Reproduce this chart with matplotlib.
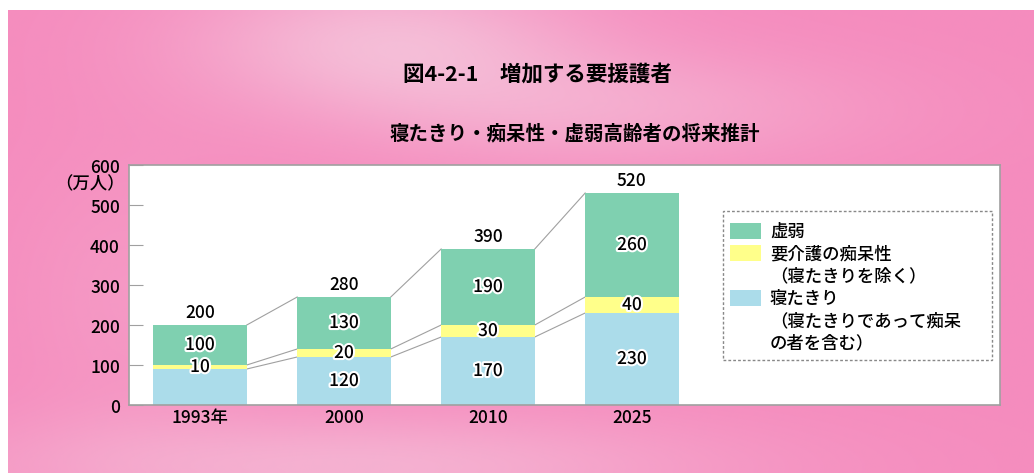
import matplotlib
matplotlib.use('Agg')
import matplotlib.pyplot as plt
import matplotlib.patheffects as pe
from matplotlib.patches import Rectangle
import numpy as np

plt.rcParams['font.family'] = ['Noto Sans CJK JP', 'DejaVu Sans']
plt.rcParams['font.weight'] = 'medium'

# data (万人)
years = ['1993年', '2000', '2010', '2025']
bedridden = [90, 120, 170, 230]      # 寝たきり
dementia = [10, 20, 30, 40]          # 要介護の痴呆性
frail = [100, 130, 190, 260]         # 虚弱
bedridden_labels = ['', '120', '170', '230']
dementia_labels = ['10', '20', '30', '40']
frail_labels = ['100', '130', '190', '260']
total_labels = ['200', '280', '390', '520']

legend_labels = [
    ['虚弱'],
    ['要介護の痴呆性', '（寝たきりを除く）'],
    ['寝たきり', '（寝たきりであって痴呆', 'の者を含む）'],
]

title = '図4-2-1　増加する要援護者'
subtitle = '寝たきり・痴呆性・虚弱高齢者の将来推計'
yticks = [0, 100, 200, 300, 400, 500, 600]

c_frail = '#7fd0b0'
c_dem = '#ffff8a'
c_bed = '#abdcea'
c_line = '#a0a0a0'

W, H = 1034, 477
fig = plt.figure(figsize=(W / 100, H / 100), dpi=100)
fig.patch.set_facecolor('white')


def px(x, y):
    # pixel (from top-left) -> figure fraction
    return x / W, 1 - y / H


# pink background, lighter near the top-middle and along the bottom
bg = fig.add_axes([8 / W, 3 / H, 1 - 8 / W, (474 - 11) / H])
gx, gy = np.meshgrid(np.linspace(0, W, 260), np.linspace(11, 474, 120))
light = 0.55 * np.exp(-(((gx - 380) / 200) ** 2 + ((gy - 40) / 70) ** 2))
light += 0.35 * np.exp(-(((gx - 600) / 260) ** 2 + ((gy - 110) / 60) ** 2))
light += 0.45 * np.exp(-(((gx - 350) / 380) ** 2 + ((gy - 470) / 55) ** 2))
light += 0.15 * np.exp(-(((gx - 120) / 120) ** 2 + ((gy - 300) / 150) ** 2))
light = np.clip(light, 0, 0.8)
pink = np.array([245, 140, 190]) / 255.0
white = np.array([245, 222, 232]) / 255.0
img = pink[None, None, :] * (1 - light[..., None]) + white[None, None, :] * light[..., None]
bg.imshow(img, aspect='auto', extent=[0, 1, 0, 1], interpolation='bilinear')
bg.axis('off')

# titles
fig.text(*px(537, 75), title, ha='center', va='center', fontsize=15.5, fontweight='bold')
fig.text(*px(575, 133), subtitle, ha='center', va='center', fontsize=14, fontweight='bold')

# main axes
ax = fig.add_axes([129 / W, 1 - 406 / H, (1000 - 129) / W, (406 - 166) / H])
ax.set_facecolor('white')
x = np.arange(len(years))
w = 0.65
b1 = np.array(bedridden)
b2 = b1 + np.array(dementia)
b3 = b2 + np.array(frail)

ax.bar(x, bedridden, w, color=c_bed, zorder=2)
ax.bar(x, dementia, w, bottom=b1, color=c_dem, zorder=2)
ax.bar(x, frail, w, bottom=b2, color=c_frail, zorder=2)

# connector lines between neighbouring bars
for level in (b1, b2, b3):
    for i in range(len(x) - 1):
        ax.plot([x[i] + w / 2, x[i + 1] - w / 2], [level[i], level[i + 1]],
                color=c_line, lw=0.8, zorder=1)

halo = [pe.withStroke(linewidth=3, foreground='white')]
for i in range(len(x)):
    for lab, lo, hi in ((bedridden_labels[i], 0, b1[i]),
                        (dementia_labels[i], b1[i], b2[i]),
                        (frail_labels[i], b2[i], b3[i])):
        if lab:
            ax.text(x[i], (lo + hi) / 2, lab, ha='center', va='center',
                    fontsize=12.5, zorder=3, path_effects=halo)
    ax.annotate(total_labels[i], (x[i], b3[i]), xytext=(0, 9.5),
                textcoords='offset points', ha='center', va='center',
                fontsize=12.5, zorder=3)

ax.set_xlim(-0.493, 5.556)
ax.set_ylim(0, 600)
ax.set_xticks(x)
ax.set_xticklabels(years, fontsize=12.5)
ax.set_yticks(yticks)
ax.set_yticklabels([str(t) for t in yticks], fontsize=12.5)
ax.tick_params(axis='x', length=0, pad=2)
ax.tick_params(axis='y', direction='in', length=10, color=c_line, pad=6.5)
for s in ax.spines.values():
    s.set_color(c_line)
    s.set_linewidth(1.2)

fig.text(*px(90, 184), '（万人）', ha='center', va='center', fontsize=12.5)

# legend
lx0, ly0 = px(723, 361)
lx1, ly1 = px(992, 212)
fig.patches.append(Rectangle((lx0, ly0), lx1 - lx0, ly1 - ly0, transform=fig.transFigure,
                             facecolor='white', edgecolor='#888888', lw=1.0,
                             linestyle=(0, (2, 1.5)), zorder=5))
line_h = 22.2
row = 0
for colour, lines in zip([c_frail, c_dem, c_bed], legend_labels):
    yc = 232 + row * line_h
    hx, hy = px(730, yc + 8)
    fig.patches.append(Rectangle((hx, hy), 31 / W, 16 / H, transform=fig.transFigure,
                                 facecolor=colour, edgecolor='none', zorder=6))
    for ln in lines:
        fig.text(*px(770, 232 + row * line_h), ln, ha='left', va='center',
                 fontsize=12.5, zorder=7)
        row += 1

fig.savefig('out.png', dpi=100)
